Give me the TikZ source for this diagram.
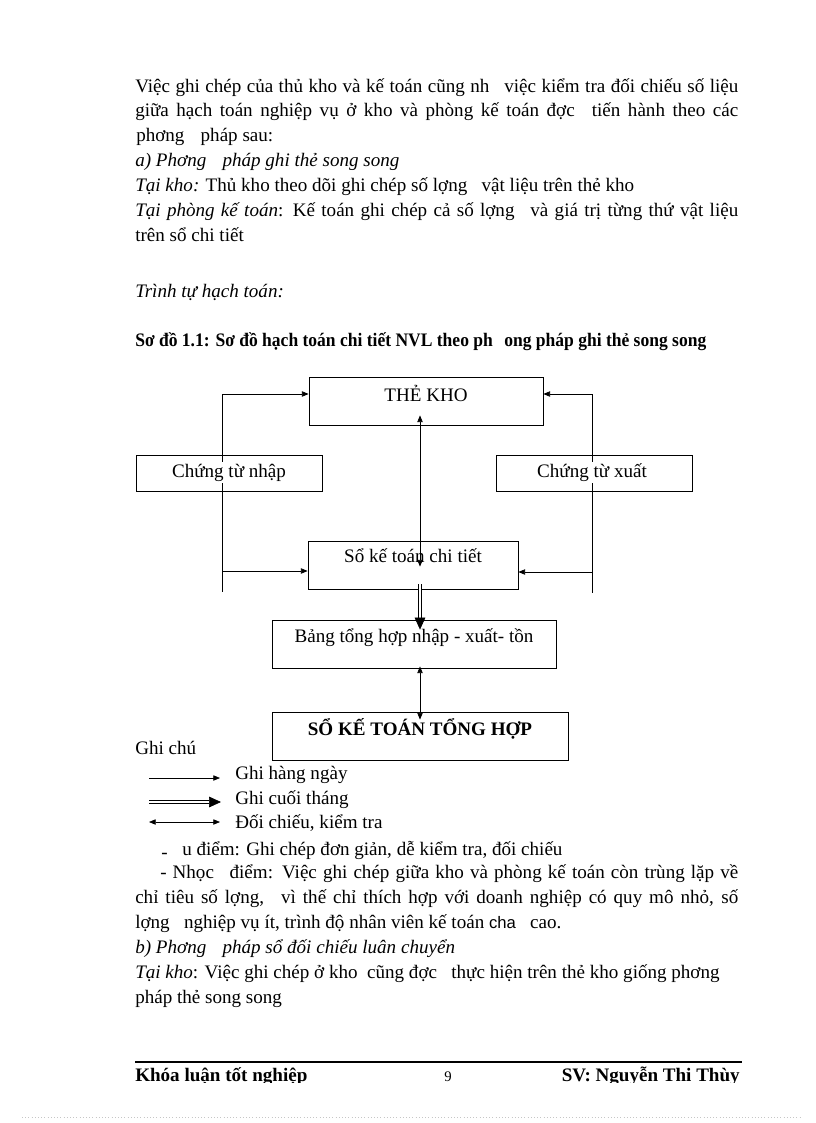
\documentclass[tikz,border=0pt]{standalone}
\usepackage{fontspec}
\setmainfont{Liberation Serif}
\newfontfamily\sansf{Liberation Sans}
\usepackage{graphicx}
\usetikzlibrary{arrows.meta,backgrounds}
\newdimen\pxu \pxu=0.75pt
\newcommand\bodyf{\fontsize{14.3}{17}\selectfont}
\begin{document}
\begin{tikzpicture}[x=0.75pt,y=-0.75pt,
  every node/.style={font=\bodyf,inner sep=0pt},
  txt/.style={anchor=base west},
  ctxt/.style={anchor=base},
  wtxt/.style={anchor=base,fill=white,inner sep=1.2pt},
  box/.style={draw,line width=0.6pt,inner sep=0pt},
  ln/.style={line width=0.5pt},
  arr/.style={ln,-{Triangle[length=5pt,width=4pt]}},
  both/.style={ln,{Triangle[length=5pt,width=4pt]}-{Triangle[length=5pt,width=4pt]}},
  dbl/.style={line width=0.5pt,double,double distance=1.6pt,-{Triangle[length=9pt,width=8pt]}}
]
\useasboundingbox (0,0) rectangle (816,1123);

% ---------- upper text ----------
\node[txt] (p1) at (135,93) {\makebox[603\pxu][s]{Việc ghi chép của thủ kho và kế toán cũng nh\hspace{0.5em} việc kiểm tra đối chiếu số liệu}};
\node[txt] (p2) at (135,117) {\makebox[603\pxu][s]{giữa hạch toán nghiệp vụ ở kho và phòng kế toán đợc\hspace{0.5em} tiến hành theo các}};
\node[txt] (p3) at (136,142) {phơng\hspace{0.6em} pháp sau:};
\node[txt] (p4) at (135,167) {\itshape a) Phơng\hspace{0.6em} pháp ghi thẻ song song};
\node[txt] (p5) at (135,192) {{\itshape Tại kho:} Thủ kho theo dõi ghi chép số lợng\hspace{0.5em} vật liệu trên thẻ kho};
\node[txt] (p6) at (135,217) {\makebox[603\pxu][s]{{\itshape Tại phòng kế toán}: Kế toán ghi chép cả số lợng\hspace{0.5em} và giá trị từng thứ vật liệu}};
\node[txt] (p7) at (135,242) {trên sổ chi tiết};
\node[txt] (p8) at (135,297) {\itshape Trình tự hạch toán:};
\node[txt] (title) at (135,346) {\resizebox{571\pxu}{\height}{\bfseries Sơ đồ 1.1: Sơ đồ hạch toán chi tiết NVL theo ph\hspace{0.4em} ong pháp ghi thẻ song song}};

% ---------- diagram boxes ----------
\node[box,minimum width=234\pxu,minimum height=48\pxu] (the) at (426,401) {};
\node[box,minimum width=186\pxu,minimum height=36\pxu] (cn) at (229,473) {};
\node[box,minimum width=196\pxu,minimum height=36\pxu] (cx) at (594,473) {};
\node[box,minimum width=210\pxu,minimum height=48\pxu] (sk) at (413,565) {};
\node[box,minimum width=284\pxu,minimum height=48\pxu] (bt) at (414,644) {};
\node[box,minimum width=296\pxu,minimum height=48\pxu] (tk) at (420,736) {};

\coordinate (ax) at (420,0);
\coordinate (L1) at (222,394);
\coordinate (L2) at (222,571);
\coordinate (L3) at (222,592);
\coordinate (R1) at (592,394);
\coordinate (R2) at (592,572);
\coordinate (R3) at (592,593);

\begin{pgfonlayer}{background}
\fill[white] (0,0) rectangle (816,1123);
\draw[ln] (L1) -- (L3);
\draw[arr] (L1) -- (L1 -| the.west);
\draw[arr] (L2) -- (L2 -| sk.west);
\draw[ln] (R1) -- (R3);
\draw[arr] (R1) -- (R1 -| the.east);
\draw[arr] (R2) -- (R2 -| sk.east);
\end{pgfonlayer}

\node[ctxt] (the-t) at (426,401) {THẺ KHO};
\node[wtxt] (cn-t) at (229,477) {Chứng từ nhập};
\node[wtxt] (cx-t) at (592,477) {Chứng từ xuất};
\node[ctxt] (sk-t) at (413,562) {Sổ kế toán chi tiết};
\node[ctxt] (bt-t) at (414,642) {Bảng tổng hợp nhập - xuất- tồn};
\node[ctxt] (tk-t) at (420,735) {\bfseries SỔ KẾ TOÁN TỔNG HỢP};

\draw[both] ([yshift=7.5pt]the.south -| ax) -- ([yshift=-19.5pt]sk.north -| ax);
\draw[dbl] ([yshift=3.75pt]sk.south -| ax) -- ([yshift=-7.5pt]bt.north -| ax);
\draw[both] ([yshift=1.5pt]bt.south -| ax) -- ([yshift=-6pt]tk.north -| ax);

% ---------- legend ----------
\node[txt] (gc) at (135,754) {Ghi chú};
\coordinate (a1s) at (149,778); \coordinate (a1e) at (220,778);
\coordinate (a2s) at (149,802); \coordinate (a2e) at (221,802);
\coordinate (a3s) at (149,822); \coordinate (a3e) at (220,822);
\draw[arr] (a1s) -- (a1e);
\draw[dbl] (a2s) -- (a2e);
\draw[both] (a3s) -- (a3e);
\node[txt] (g1) at (235,779) {Ghi hàng ngày};
\node[txt] (g2) at (235,804) {Ghi cuối tháng};
\node[txt] (g3) at (235,828) {Đối chiếu, kiểm tra};

% ---------- lower text ----------
\node[txt] (q1) at (161,855) {\makebox[21\pxu][l]{\raisebox{-0.18em}{-}}u điểm: Ghi chép đơn giản, dễ kiểm tra, đối chiếu};
\node[txt] (q2) at (160,878) {\makebox[578\pxu][s]{- Nhọc\hspace{0.5em} điểm: Việc ghi chép giữa kho và phòng kế toán còn trùng lặp về}};
\node[txt] (q3) at (135,903) {\makebox[603\pxu][s]{chỉ tiêu số lợng,\hspace{0.5em} vì thế chỉ thích hợp với doanh nghiệp có quy mô nhỏ, số}};
\node[txt] (q4) at (135,928) {lợng\hspace{0.5em} nghiệp vụ ít, trình độ nhân viên kế toán {\sansf\fontsize{12.5}{15}\selectfont cha}\hspace{0.5em} cao.};
\node[txt] (q5) at (135,953) {\itshape b) Phơng\hspace{0.6em} pháp sổ đối chiếu luân chuyển};
\node[txt] (q6) at (135,978) {{\itshape Tại kho}: Việc ghi chép ở kho\ \ cũng đợc\hspace{0.5em} thực hiện trên thẻ kho giống phơng};
\node[txt] (q7) at (135,1003) {pháp thẻ song song};

% ---------- footer ----------
\draw[line width=1.5pt] (135,1062) -- (742,1062);
\begin{scope}
\clip (100,1064) rectangle (760,1082);
\node[txt] (f1) at (135,1081) {\bfseries Khóa luận tốt nghiệp};
\node[txt,font=\fontsize{11}{13}\selectfont] (f2) at (444,1081) {9};
\node[anchor=base east] (f3) at (740,1081) {\bfseries SV: Nguyễn Thi Thùy};
\end{scope}
\draw[dotted,gray!45,line width=0.4pt] (22,1117) -- (800,1117);
\end{tikzpicture}
\end{document}
